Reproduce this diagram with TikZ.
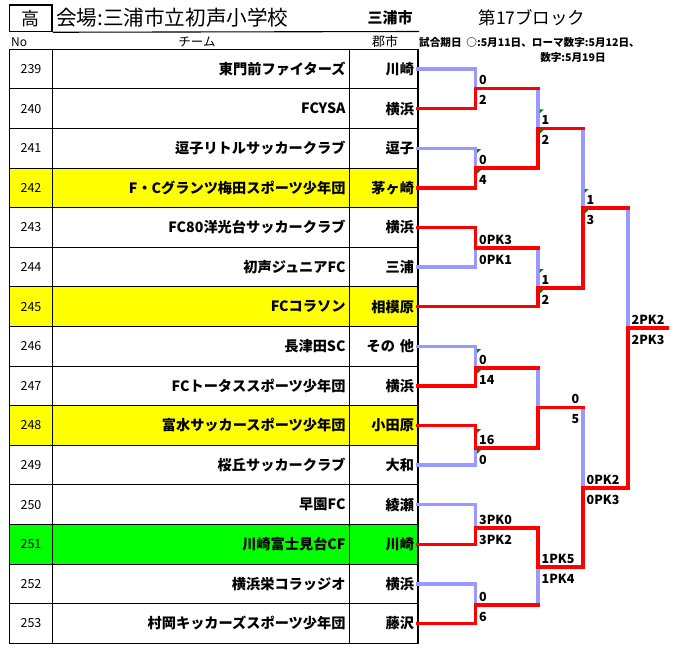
\documentclass[tikz,border=0pt]{standalone}
\usepackage{fontspec}
\setmainfont{Noto Sans CJK JP}
\usetikzlibrary{positioning}
\definecolor{lostblue}{RGB}{153,153,255}
\definecolor{hlyellow}{RGB}{255,255,0}
\definecolor{hlgreen}{RGB}{0,255,0}
\definecolor{flaggreen}{RGB}{0,128,0}

\begin{document}
\begin{tikzpicture}[x=1pt,y=-1pt,
  numcell/.style={draw, line width=1.1pt, minimum width=43, minimum height=39.6, inner sep=0pt, outer sep=0pt, font=\fontsize{12.5}{13}\selectfont},
  teamcell/.style={draw, line width=1.1pt, text width=289, align=right, inner xsep=4, inner ysep=0pt, minimum height=39.6, outer sep=0pt, font=\bfseries\fontsize{14.2}{15}\selectfont},
  citycell/.style={draw, line width=1.1pt, text width=60.5, align=right, inner xsep=4, inner ysep=0pt, minimum height=39.6, outer sep=0pt, font=\bfseries\fontsize{14.2}{15}\selectfont},
  lostline/.style={draw=lostblue, line width=3.3pt, line cap=rect},
  wonline/.style={draw=red, line width=3.3pt, line cap=rect},
  score/.style={anchor=west, inner sep=0.5pt, font=\bfseries\fontsize{12.5}{13}\selectfont},
  scoreleft/.style={anchor=east, inner sep=0.5pt, font=\bfseries\fontsize{12.5}{13}\selectfont}]
\useasboundingbox (0,0) rectangle (683,662);

% header
\node[draw, line width=1.5pt, minimum width=42.5, minimum height=26.5, inner sep=0pt, font=\fontsize{18}{18}\selectfont] (ko) at (30.75,18.25) {高};
\draw[line width=1.1pt] (ko.south east) -- (419,31.5);
\node[anchor=west, inner sep=0pt, font=\fontsize{20.6}{21}\selectfont] (venue) at (56,17.5) {会場:三浦市立初声小学校};
\node[inner sep=0pt, font=\bfseries\fontsize{15}{15}\selectfont] (hostcity) at (390,18) {三浦市};
\node[inner sep=0pt, font=\fontsize{17.5}{18}\selectfont] (block) at (532,18) {第17ブロック};
\node[anchor=west, inner sep=0pt, font=\fontsize{12}{12}\selectfont] (colno) at (11,42) {No};
\node[inner sep=0pt, font=\fontsize{12.5}{12}\selectfont] (colteam) at (197,42) {チーム};
\node[inner sep=0pt, font=\fontsize{13}{12}\selectfont] (colcity) at (385,42) {郡市};
\node[anchor=west, inner sep=0pt, font=\bfseries\fontsize{10.6}{10}\selectfont] (datenote) at (419,42) {試合期日\ \ ○:5月11日、ローマ数字:5月12日、};
\node[inner sep=0pt, font=\bfseries\fontsize{10.6}{10}\selectfont] (datenotb) at (573,57) {数字:5月19日};

% table
\node[numcell] (n239) at (31,69.1) {239};
\node[numcell, below=0pt of n239] (n240) {240};
\node[numcell, below=0pt of n240] (n241) {241};
\node[numcell, below=0pt of n241, fill=hlyellow] (n242) {242};
\node[numcell, below=0pt of n242] (n243) {243};
\node[numcell, below=0pt of n243] (n244) {244};
\node[numcell, below=0pt of n244, fill=hlyellow] (n245) {245};
\node[numcell, below=0pt of n245] (n246) {246};
\node[numcell, below=0pt of n246] (n247) {247};
\node[numcell, below=0pt of n247, fill=hlyellow] (n248) {248};
\node[numcell, below=0pt of n248] (n249) {249};
\node[numcell, below=0pt of n249] (n250) {250};
\node[numcell, below=0pt of n250, fill=hlgreen] (n251) {251};
\node[numcell, below=0pt of n251] (n252) {252};
\node[numcell, below=0pt of n252] (n253) {253};

\node[teamcell, right=0pt of n239] (t239) {東門前ファイターズ};
\node[teamcell, right=0pt of n240] (t240) {FCYSA};
\node[teamcell, right=0pt of n241] (t241) {逗子リトルサッカークラブ};
\node[teamcell, right=0pt of n242, fill=hlyellow] (t242) {F・Cグランツ梅田スポーツ少年団};
\node[teamcell, right=0pt of n243] (t243) {FC80洋光台サッカークラブ};
\node[teamcell, right=0pt of n244] (t244) {初声ジュニアFC};
\node[teamcell, right=0pt of n245, fill=hlyellow] (t245) {FCコラソン};
\node[teamcell, right=0pt of n246] (t246) {長津田SC};
\node[teamcell, right=0pt of n247] (t247) {FCトータススポーツ少年団};
\node[teamcell, right=0pt of n248, fill=hlyellow] (t248) {富水サッカースポーツ少年団};
\node[teamcell, right=0pt of n249] (t249) {桜丘サッカークラブ};
\node[teamcell, right=0pt of n250] (t250) {早園FC};
\node[teamcell, right=0pt of n251, fill=hlgreen] (t251) {川崎富士見台CF};
\node[teamcell, right=0pt of n252] (t252) {横浜栄コラッジオ};
\node[teamcell, right=0pt of n253] (t253) {村岡キッカーズスポーツ少年団};

\node[citycell, right=0pt of t239] (c239) {川崎};
\node[citycell, right=0pt of t240] (c240) {横浜};
\node[citycell, right=0pt of t241] (c241) {逗子};
\node[citycell, right=0pt of t242, fill=hlyellow] (c242) {茅ヶ崎};
\node[citycell, right=0pt of t243] (c243) {横浜};
\node[citycell, right=0pt of t244] (c244) {三浦};
\node[citycell, right=0pt of t245, fill=hlyellow] (c245) {相模原};
\node[citycell, right=0pt of t246] (c246) {その 他};
\node[citycell, right=0pt of t247] (c247) {横浜};
\node[citycell, right=0pt of t248, fill=hlyellow] (c248) {小田原};
\node[citycell, right=0pt of t249] (c249) {大和};
\node[citycell, right=0pt of t250] (c250) {綾瀬};
\node[citycell, right=0pt of t251, fill=hlgreen] (c251) {川崎};
\node[citycell, right=0pt of t252] (c252) {横浜};
\node[citycell, right=0pt of t253] (c253) {藤沢};

% bracket junctions
\coordinate (m1) at (475.5,88.3);
\coordinate (m2) at (475.5,168);
\coordinate (m3) at (475.5,248);
\coordinate (m4) at (475.5,368);
\coordinate (m5) at (475.5,448);
\coordinate (m6) at (475.5,528);
\coordinate (m7) at (475.5,605);
\coordinate (q1) at (538,128.3);
\coordinate (q2) at (538,288);
\coordinate (q3) at (538,407.7);
\coordinate (q4) at (538,567);
\coordinate (s1) at (583,208);
\coordinate (s2) at (583,488);
\coordinate (fin) at (628,328);
\coordinate (champ) at (667,328);
\coordinate (q3r) at (q3 -| s2);

% lost sides
\draw[lostline] (c239.east) -| (m1);
\draw[lostline] (c241.east) -| (m2);
\draw[lostline] (c244.east) -| (m3);
\draw[lostline] (c246.east) -| (m4);
\draw[lostline] (c249.east) -| (m5);
\draw[lostline] (c250.east) -| (m6);
\draw[lostline] (c252.east) -| (m7);
\draw[lostline] (m1 -| q1) -- (q1);
\draw[lostline] (m3 -| q2) -- (q2);
\draw[lostline] (m4 -| q3) -- (q3);
\draw[lostline] (m7 -| q4) -- (q4);
\draw[lostline] (q1 -| s1) -- (s1);
\draw[lostline] (q3 -| s2) -- (s2);
\draw[lostline] (s1 -| fin) -- (fin);

% won sides
\draw[wonline] (c240.east) -| (m1) -- (m1 -| q1);
\draw[wonline] (c242.east) -| (m2) -- (m2 -| q1) -- (q1) -- (q1 -| s1);
\draw[wonline] (c243.east) -| (m3) -- (m3 -| q2);
\draw[wonline] (c245.east) -| (q2) -- (q2 -| s1) -- (s1) -- (s1 -| fin);
\draw[wonline] (c247.east) -| (m4) -- (m4 -| q3);
\draw[wonline] (c248.east) -| (m5) -- (m5 -| q3) -- (q3) -- (q3 -| s2);
\draw[wonline] (c253.east) -| (m7) -- (m7 -| q4);
\draw[wonline] (c251.east) -| (m6) -- (m6 -| q4) -- (q4) -- (q4 -| s2) -- (s2) -- (s2 -| fin) -- (fin) -- (champ);

% scores
\node[score] (m1a) at ([shift={(3,-8.5)}]m1) {0};
\node[score] (m1b) at ([shift={(3,11.5)}]m1) {2};
\node[score] (m2a) at ([shift={(3,-8.5)}]m2) {0};
\node[score] (m2b) at ([shift={(3,11.5)}]m2) {4};
\node[score] (m3a) at ([shift={(3,-8.5)}]m3) {0PK3};
\node[score] (m3b) at ([shift={(3,11.5)}]m3) {0PK1};
\node[score] (m4a) at ([shift={(3,-8.5)}]m4) {0};
\node[score] (m4b) at ([shift={(3,11.5)}]m4) {14};
\node[score] (m5a) at ([shift={(3,-8.5)}]m5) {16};
\node[score] (m5b) at ([shift={(3,11.5)}]m5) {0};
\node[score] (m6a) at ([shift={(3,-8.5)}]m6) {3PK0};
\node[score] (m6b) at ([shift={(3,11.5)}]m6) {3PK2};
\node[score] (m7a) at ([shift={(3,-8.5)}]m7) {0};
\node[score] (m7b) at ([shift={(3,11.5)}]m7) {6};
\node[score] (q1a) at ([shift={(3,-8.5)}]q1) {1};
\node[score] (q1b) at ([shift={(3,11.5)}]q1) {2};
\node[score] (q2a) at ([shift={(3,-8.5)}]q2) {1};
\node[score] (q2b) at ([shift={(3,11.5)}]q2) {2};
\node[scoreleft] (q3a) at ([shift={(-3,-8.5)}]q3r) {0};
\node[scoreleft] (q3b) at ([shift={(-3,11.5)}]q3r) {5};
\node[score] (q4a) at ([shift={(3,-8.5)}]q4) {1PK5};
\node[score] (q4b) at ([shift={(3,11.5)}]q4) {1PK4};
\node[score] (s1a) at ([shift={(3,-8.5)}]s1) {1};
\node[score] (s1b) at ([shift={(3,11.5)}]s1) {3};
\node[score] (s2a) at ([shift={(3,-8.5)}]s2) {0PK2};
\node[score] (s2b) at ([shift={(3,11.5)}]s2) {0PK3};
\node[score] (fina) at ([shift={(3,-8)}]fin) {2PK2};
\node[score] (finb) at ([shift={(3,11.5)}]fin) {2PK3};

% green corner marks
\fill[flaggreen] ([shift={(1.7,-19)}]m2) -- ++(4,0) -- ++(-4,4) -- cycle;
\fill[flaggreen] ([shift={(1.7,1.7)}]m2) -- ++(4,0) -- ++(-4,4) -- cycle;
\fill[flaggreen] ([shift={(1.7,-19)}]m4) -- ++(4,0) -- ++(-4,4) -- cycle;
\fill[flaggreen] ([shift={(1.7,1.7)}]m4) -- ++(4,0) -- ++(-4,4) -- cycle;
\fill[flaggreen] ([shift={(1.7,-19)}]m5) -- ++(4,0) -- ++(-4,4) -- cycle;
\fill[flaggreen] ([shift={(1.7,1.7)}]m5) -- ++(4,0) -- ++(-4,4) -- cycle;
\fill[flaggreen] ([shift={(1.7,-19)}]q1) -- ++(4,0) -- ++(-4,4) -- cycle;
\fill[flaggreen] ([shift={(1.7,1.7)}]q1) -- ++(4,0) -- ++(-4,4) -- cycle;
\fill[flaggreen] ([shift={(1.7,-19)}]q2) -- ++(4,0) -- ++(-4,4) -- cycle;
\fill[flaggreen] ([shift={(1.7,1.7)}]q2) -- ++(4,0) -- ++(-4,4) -- cycle;
\fill[flaggreen] ([shift={(1.7,-19)}]s1) -- ++(4,0) -- ++(-4,4) -- cycle;
\fill[flaggreen] ([shift={(1.7,1.7)}]s1) -- ++(4,0) -- ++(-4,4) -- cycle;
\end{tikzpicture}
\end{document}
